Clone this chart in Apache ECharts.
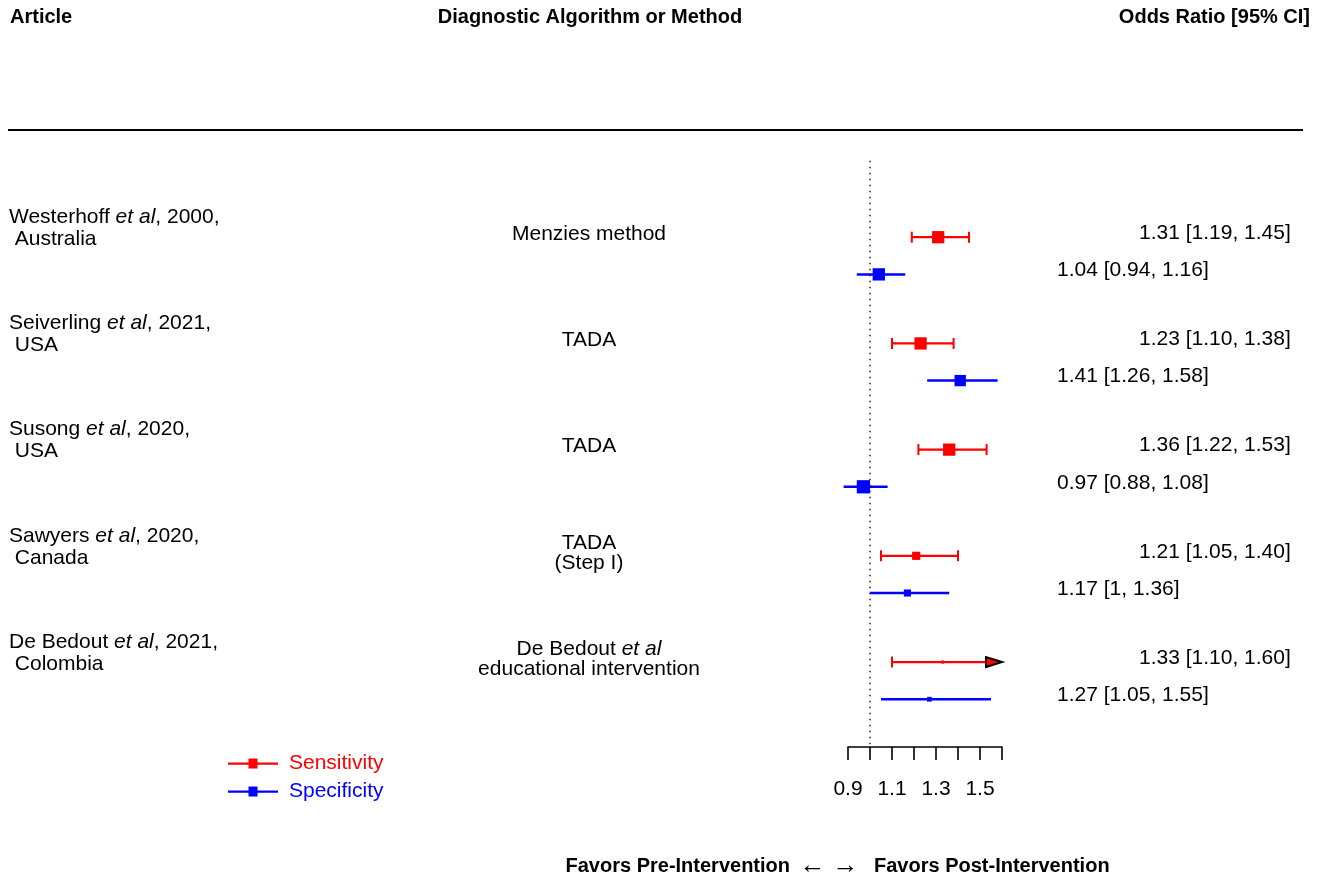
<!DOCTYPE html>
<html>
<head>
<meta charset="utf-8">
<script src="https://cdn.jsdelivr.net/npm/echarts@6/dist/echarts.min.js"></script>
<style>
html,body{margin:0;padding:0;background:#fff;}
#chart{width:1322px;height:882px;}
</style>
</head>
<body>
<div id="chart"></div>
<script>
// ---------------- data ----------------
const studyNames = ['Westerhoff', 'Seiverling', 'Susong', 'Sawyers', 'De Bedout'];
const studyYears = [2000, 2021, 2020, 2020, 2021];
const countries = ['Australia', 'USA', 'USA', 'Canada', 'Colombia'];
const methods = ['Menzies method', 'TADA', 'TADA', 'TADA\n(Step I)', 'De Bedout {i|et al}\neducational intervention'];

const sensOR = [1.31, 1.23, 1.36, 1.21, 1.33];
const sensLo = [1.19, 1.10, 1.22, 1.05, 1.10];
const sensHi = [1.45, 1.38, 1.53, 1.40, 1.60];
const sensWeight = [28.5, 28.5, 28.5, 12.7, 1.8];

const specOR = [1.04, 1.41, 0.97, 1.17, 1.27];
const specLo = [0.94, 1.26, 0.88, 1.00, 1.05];
const specHi = [1.16, 1.58, 1.08, 1.36, 1.55];
const specWeight = [28.6, 24.4, 33.2, 9.5, 4.2];

const xTickLabels = ['0.9', '1.1', '1.3', '1.5'];
const X_MIN = 0.9, X_MAX = 1.6, X_STEP = 0.1;
const refValue = 1;

// ---------------- drawing ----------------
const FONT = '"Liberation Sans", Arial, Helvetica, sans-serif';
const FS = 21;
const F20 = FS + 'px ' + FONT;
const FI20 = 'italic ' + FS + 'px ' + FONT;
const FB = 'bold 20px ' + FONT;

function fmt(v) { return Number.isInteger(v) ? String(v) : v.toFixed(2); }

const sensData = studyNames.map((_, i) => [i, sensOR[i], sensLo[i], sensHi[i], sensWeight[i]]);
const specData = studyNames.map((_, i) => [i, specOR[i], specLo[i], specHi[i], specWeight[i]]);

function makeRender(color, offset, caps, textX, lw) {
  return function (params, api) {
    const i = api.value(0), est = api.value(1), lo = api.value(2), hi = api.value(3), w = api.value(4);
    const yv = i + offset;
    const arrow = hi >= X_MAX;
    const pLo = api.coord([lo, yv]);
    const pHi = api.coord([arrow ? X_MAX : hi, yv]);
    const pE = api.coord([est, yv]);
    const y = pLo[1];
    const aLen = 16;
    const lineEnd = arrow ? pHi[0] - aLen : pHi[0];
    const kids = [{
      type: 'line', shape: { x1: pLo[0], y1: y, x2: lineEnd, y2: y },
      style: { stroke: color, lineWidth: lw }
    }];
    if (caps) {
      kids.push({ type: 'line', shape: { x1: pLo[0], y1: y - 5.5, x2: pLo[0], y2: y + 5.5 }, style: { stroke: color, lineWidth: 2 } });
      if (!arrow) kids.push({ type: 'line', shape: { x1: pHi[0], y1: y - 5.5, x2: pHi[0], y2: y + 5.5 }, style: { stroke: color, lineWidth: 2 } });
    }
    const s = Math.sqrt(w) * 2.3;
    kids.push({ type: 'rect', shape: { x: pE[0] - s / 2, y: y - s / 2, width: s, height: s }, style: { fill: color } });
    if (arrow) {
      kids.push({
        type: 'polygon',
        shape: { points: [[pHi[0], y], [pHi[0] - aLen, y - 5], [pHi[0] - aLen, y + 5]] },
        style: { fill: color, stroke: '#000', lineWidth: 2 }
      });
    }
    kids.push({
      type: 'text', x: textX, y: y - 4,
      style: { text: fmt(est) + ' [' + fmt(lo) + ', ' + fmt(hi) + ']', font: F20, fill: '#000', align: 'left', verticalAlign: 'middle' }
    });
    return { type: 'group', children: kids };
  };
}

function renderLabels(params, api) {
  const i = api.value(0);
  const y = api.coord([X_MIN, i])[1];
  return {
    type: 'group',
    children: [
      {
        type: 'text', x: 9, y: y - 31,
        style: {
          text: studyNames[i] + ' {i|et al}, ' + studyYears[i] + ',\n ' + countries[i],
          font: F20, fill: '#000', align: 'left', verticalAlign: 'top', lineHeight: 22,
          rich: { i: { font: FI20, lineHeight: 22 } }
        }
      },
      {
        type: 'text', x: 589, y: y - 3,
        style: {
          text: methods[i], font: F20, fill: '#000', align: 'center', verticalAlign: 'middle', lineHeight: 20,
          rich: { i: { font: FI20, lineHeight: 20 } }
        }
      }
    ]
  };
}

const chart = echarts.init(document.getElementById('chart'));
chart.setOption({
  animation: false,
  backgroundColor: '#fff',
  grid: { left: 848, right: 320, top: 131, height: 616 },
  xAxis: {
    type: 'value', min: X_MIN, max: X_MAX, interval: X_STEP,
    axisLine: { show: true, onZero: false, lineStyle: { color: '#000', width: 1.6 } },
    axisTick: { show: true, inside: false, length: 13, lineStyle: { color: '#000', width: 1.6 } },
    splitLine: { show: false },
    axisLabel: {
      margin: 32, color: '#000', fontSize: FS, fontFamily: FONT,
      formatter: v => { const t = v.toFixed(1); return xTickLabels.indexOf(t) >= 0 ? t : ''; }
    }
  },
  yAxis: { type: 'value', inverse: true, min: -1, max: 4.8, show: false },
  legend: {
    left: 223, top: 748, orient: 'vertical', itemGap: 7,
    itemWidth: 50, itemHeight: 10,
    icon: 'path://M0,4L50,4L50,6.2L0,6.2Z M20.5,0L29.5,0L29.5,10L20.5,10Z',
    textStyle: { fontSize: FS, fontFamily: FONT, padding: [0, 0, 0, 6] },
    data: [
      { name: 'Sensitivity', textStyle: { color: '#ff0000' } },
      { name: 'Specificity', textStyle: { color: '#0000ff' } }
    ]
  },
  graphic: [
    { type: 'text', x: 10, y: 17, style: { text: 'Article', font: FB, fill: '#000', align: 'left', verticalAlign: 'middle' } },
    { type: 'text', x: 590, y: 17, style: { text: 'Diagnostic Algorithm or Method', font: FB, fill: '#000', align: 'center', verticalAlign: 'middle' } },
    { type: 'text', x: 1310, y: 17, style: { text: 'Odds Ratio [95% CI]', font: FB, fill: '#000', align: 'right', verticalAlign: 'middle' } },
    { type: 'line', shape: { x1: 8, y1: 130, x2: 1303, y2: 130 }, style: { stroke: '#000', lineWidth: 2 } },
    { type: 'text', x: 790, y: 866, style: { text: 'Favors Pre-Intervention', font: FB, fill: '#000', align: 'right', verticalAlign: 'middle' } },
    { type: 'text', x: 829, y: 866, style: { text: '\u2190 \u2192', font: '26px "Liberation Sans", "DejaVu Sans", sans-serif', fill: '#000', align: 'center', verticalAlign: 'middle' } },
    { type: 'text', x: 874, y: 866, style: { text: 'Favors Post-Intervention', font: FB, fill: '#000', align: 'left', verticalAlign: 'middle' } }
  ],
  series: [
    {
      name: 'ref', type: 'line', data: [[refValue, -0.72], [refValue, 4.8]],
      symbol: 'none', silent: true, z: 1,
      lineStyle: { color: '#333', width: 1.6, type: [1.6, 4.4] }
    },
    {
      name: 'Sensitivity', type: 'custom', itemStyle: { color: '#ff0000' },
      renderItem: makeRender('#ff0000', 0, true, 1139, 2.2), data: sensData, clip: false, z: 3
    },
    {
      name: 'Specificity', type: 'custom', itemStyle: { color: '#0000ff' },
      renderItem: makeRender('#0000ff', 0.35, false, 1057, 2.5), data: specData, clip: false, z: 3
    },
    {
      name: 'labels', type: 'custom', renderItem: renderLabels,
      data: studyNames.map((_, i) => [i]), clip: false, silent: true
    }
  ]
});
</script>
</body>
</html>
